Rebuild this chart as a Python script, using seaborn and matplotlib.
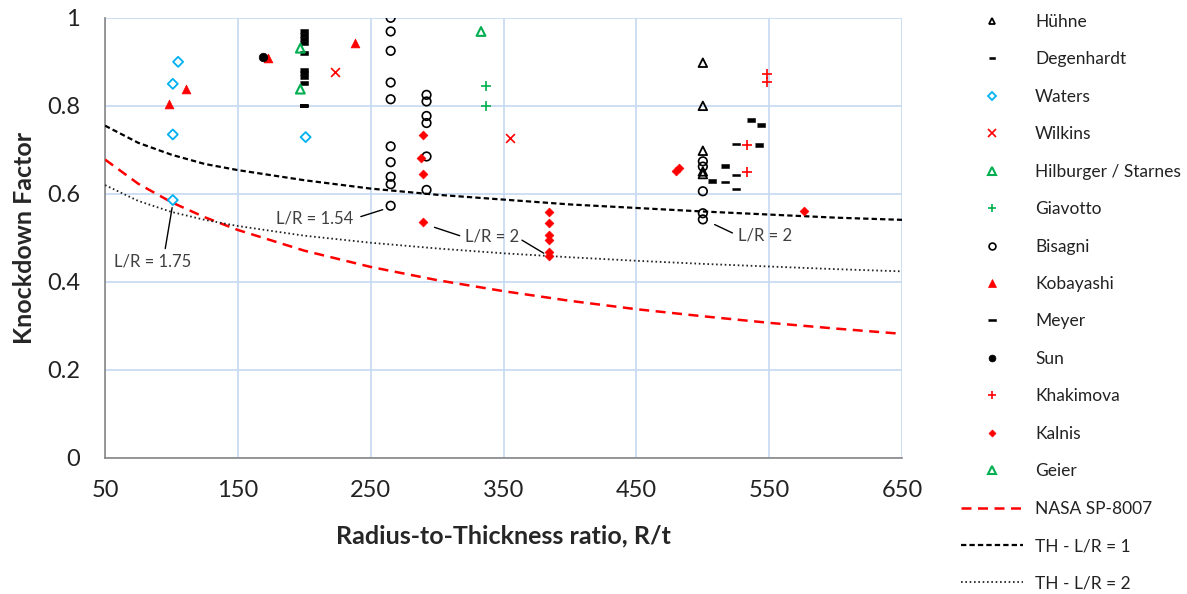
import numpy as np
import pandas as pd
import matplotlib
matplotlib.use("Agg")
import matplotlib.pyplot as plt
from matplotlib.lines import Line2D
import seaborn as sns

sns.set_style("white")
plt.rcParams['font.family'] = ['Lato', 'DejaVu Sans']

# test data (R/t, knockdown factor)
huehne_x = [500, 500, 500, 500, 500]
huehne_y = [0.898, 0.800, 0.698, 0.651, 0.645]
degen_x = [200, 200, 200, 200, 200, 200, 200, 200, 200, 536, 544, 542, 517, 507]
degen_y = [0.971, 0.961, 0.952, 0.942, 0.920, 0.882, 0.874, 0.865, 0.852,
           0.768, 0.757, 0.711, 0.664, 0.630]
waters_x = [105, 101, 101, 101, 201]
waters_y = [0.900, 0.850, 0.735, 0.586, 0.729]
wilkins_x = [223, 355]
wilkins_y = [0.878, 0.728]
hilb_x = [197, 197]
hilb_y = [0.931, 0.838]
giav_x = [337, 337]
giav_y = [0.844, 0.800]
bisagni_x = [265] * 10 + [292] * 6 + [500] * 5
bisagni_y = [1.000, 0.969, 0.925, 0.853, 0.815, 0.708, 0.672, 0.639, 0.622, 0.573,
             0.825, 0.810, 0.777, 0.761, 0.685, 0.609,
             0.674, 0.662, 0.606, 0.556, 0.542]
koba_x = [111, 98, 173, 238]
koba_y = [0.838, 0.805, 0.908, 0.942]
meyer_x = [525, 525, 525, 517]
meyer_y = [0.713, 0.643, 0.611, 0.628]
meyer_odd_x = [200]
meyer_odd_y = [0.800]
sun_x = [169]
sun_y = [0.912]
khak_x = [548, 548, 533, 533]
khak_y = [0.873, 0.855, 0.710, 0.649]
kalnis_x = [289, 288, 289, 289, 384, 384, 384, 384, 384, 384, 480, 482, 576]
kalnis_y = [0.734, 0.681, 0.645, 0.535, 0.558, 0.533, 0.507, 0.495, 0.469, 0.458,
            0.651, 0.658, 0.560]
geier_x = [333]
geier_y = [0.969]

# design curves
curve_x = [50, 75, 100, 125, 150, 200, 250, 300, 350, 400, 450, 500, 550, 600, 650]
nasa_y = [0.678, 0.623, 0.581, 0.547, 0.518, 0.471, 0.434, 0.404, 0.379, 0.357,
          0.338, 0.322, 0.307, 0.294, 0.282]
th1_y = [0.755, 0.716, 0.689, 0.668, 0.654, 0.631, 0.612, 0.598, 0.587, 0.576,
         0.568, 0.560, 0.553, 0.546, 0.541]
th2_y = [0.620, 0.584, 0.559, 0.541, 0.527, 0.505, 0.489, 0.476, 0.465, 0.456,
         0.448, 0.441, 0.435, 0.429, 0.424]

x_major = [50, 150, 250, 350, 450, 550, 650]
x_minor = [100, 200, 300, 400, 500, 600]
y_major = [0, 0.2, 0.4, 0.6, 0.8, 1.0]
y_labels = ["0", "0.2", "0.4", "0.6", "0.8", "1"]
y_minor = [0.1, 0.3, 0.5, 0.7, 0.9]

RED = "#ff0000"
GREEN = "#00b050"
BLUE = "#00b0f0"
dash_short = [(-0.5, -0.22), (0.5, -0.22), (0.5, 0.22), (-0.5, 0.22)]
dash_long = [(-1, -0.22), (1, -0.22), (1, 0.22), (-1, 0.22)]

fig, ax = plt.subplots(figsize=(11.87, 5.94), dpi=100)
fig.subplots_adjust(left=0.0885, right=0.76, bottom=0.229, top=0.97)

# name, x, y, marker, size, face, edge, lw
series = [
    ("Hühne", huehne_x, huehne_y, "^", 38, "none", "black", 1.3),
    ("Degenhardt", degen_x, degen_y, dash_short, 28, "black", "black", 0.4),
    ("Waters", waters_x, waters_y, "D", 26, "none", BLUE, 1.3),
    ("Wilkins", wilkins_x, wilkins_y, "x", 40, RED, RED, 1.2),
    ("Hilburger / Starnes", hilb_x, hilb_y, "^", 40, "none", GREEN, 1.5),
    ("Giavotto", giav_x, giav_y, "+", 60, GREEN, GREEN, 1.2),
    ("Bisagni", bisagni_x, bisagni_y, "o", 38, "none", "black", 1.2),
    ("Kobayashi", koba_x, koba_y, "^", 40, RED, RED, 0.5),
    ("Meyer", meyer_x, meyer_y, dash_long, 40, "black", "black", 0.4),
    ("Sun", sun_x, sun_y, "o", 38, "black", "black", 0.5),
    ("Khakimova", khak_x, khak_y, "+", 60, RED, RED, 1.2),
    ("Kalnis", kalnis_x, kalnis_y, "D", 20, RED, RED, 0.5),
    ("Geier", geier_x, geier_y, "^", 40, "none", GREEN, 1.5),
]

for name, xs, ys, mk, s, fc, ec, lw in series:
    df = pd.DataFrame({"x": xs, "y": ys})
    sns.scatterplot(data=df, x="x", y="y", ax=ax, marker=mk, s=s,
                    facecolor=fc, edgecolor=ec, linewidth=lw, zorder=4)

sns.scatterplot(data=pd.DataFrame({"x": meyer_odd_x, "y": meyer_odd_y}), x="x", y="y",
                ax=ax, marker=dash_long, s=40, facecolor="#c55a11",
                edgecolor="black", linewidth=1.4, zorder=4)

cdf = pd.DataFrame({"x": curve_x, "nasa": nasa_y, "th1": th1_y, "th2": th2_y})
nasa_dash = [4, 2.6]
th1_dash = [2.4, 1.4]
th2_dash = [0.9, 1.5]
sns.lineplot(data=cdf, x="x", y="nasa", ax=ax, color=RED, lw=1.8, zorder=3)
ax.lines[-1].set_dashes(nasa_dash)
sns.lineplot(data=cdf, x="x", y="th1", ax=ax, color="black", lw=1.6, zorder=3)
ax.lines[-1].set_dashes(th1_dash)
sns.lineplot(data=cdf, x="x", y="th2", ax=ax, color="#222222", lw=1.3, zorder=3)
ax.lines[-1].set_dashes(th2_dash)

# leader annotations
tkw = dict(fontsize=12, color="#404040", ha="center", va="center")
ax.annotate("L/R = 1.75", xy=(101, 0.578), xytext=(86, 0.447),
            arrowprops=dict(arrowstyle="-", color="black", lw=1,
                            relpos=(0.65, 1.0), shrinkA=1, shrinkB=3), **tkw)
ax.annotate("L/R = 1.54", xy=(262, 0.567), xytext=(208, 0.545),
            arrowprops=dict(arrowstyle="-", color="black", lw=1,
                            relpos=(1.0, 0.45), shrinkA=3, shrinkB=3), **tkw)
ax.annotate("L/R = 2", xy=(382, 0.462), xytext=(341, 0.503),
            arrowprops=dict(arrowstyle="-", color="black", lw=1,
                            relpos=(0.95, 0.5), shrinkA=0, shrinkB=2), **tkw)
ax.annotate("", xy=(298, 0.524), xytext=(317, 0.505),
            arrowprops=dict(arrowstyle="-", color="black", lw=1, shrinkA=0, shrinkB=0))
ax.annotate("L/R = 2", xy=(507, 0.533), xytext=(547, 0.505),
            arrowprops=dict(arrowstyle="-", color="black", lw=1,
                            relpos=(0.0, 0.5), shrinkA=2, shrinkB=2), **tkw)

ax.set_xlim(50, 650)
ax.set_ylim(0, 1)
ax.set_xticks(x_major)
ax.set_xticks(x_minor, minor=True)
ax.set_yticks(y_major)
ax.set_yticklabels(y_labels)
ax.set_yticks(y_minor, minor=True)
ax.grid(True, which="major", color="#c6d9f1", lw=1.2)
ax.set_axisbelow(True)

for sp in ["top", "right"]:
    ax.spines[sp].set_visible(False)
for sp in ["left", "bottom"]:
    ax.spines[sp].set_color("#868686")
    ax.spines[sp].set_linewidth(1.2)

ax.tick_params(axis="x", which="major", direction="inout", length=10, width=1,
               color="#868686", labelsize=17, pad=11, labelcolor="#222222")
ax.tick_params(axis="x", which="minor", direction="in", length=5, width=1, color="#868686")
ax.tick_params(axis="y", which="major", direction="out", length=6, width=1,
               color="#868686", labelsize=17, pad=12, labelcolor="#222222")
ax.tick_params(axis="y", which="minor", direction="in", length=5, width=1, color="#868686")

ax.set_xlabel("Radius-to-Thickness ratio, R/t", fontsize=18, fontweight="bold", labelpad=17)
ax.set_ylabel("Knockdown Factor", fontsize=18, fontweight="bold", labelpad=8)

# legend
handles = []
for name, xs, ys, mk, s, fc, ec, lw in series:
    handles.append(Line2D([], [], ls="none", marker=mk, markersize=np.sqrt(s) * 0.8,
                          markerfacecolor=fc, markeredgecolor=ec, markeredgewidth=lw,
                          label=name))
for lab, col, lw, dsh in [("NASA SP-8007", RED, 1.8, nasa_dash),
                          ("TH - L/R = 1", "black", 1.6, th1_dash),
                          ("TH - L/R = 2", "#222222", 1.3, th2_dash)]:
    h = Line2D([], [], color=col, lw=lw, label=lab)
    h.set_dashes(dsh)
    handles.append(h)

fig.legend(handles=handles, loc="upper left", bbox_to_anchor=(0.799, 0.997),
           frameon=False, fontsize=12.5, labelspacing=1.235, handlelength=3.6,
           handletextpad=0.7, borderpad=0.2, labelcolor="#222222")

fig.savefig("out.png", dpi=100)
